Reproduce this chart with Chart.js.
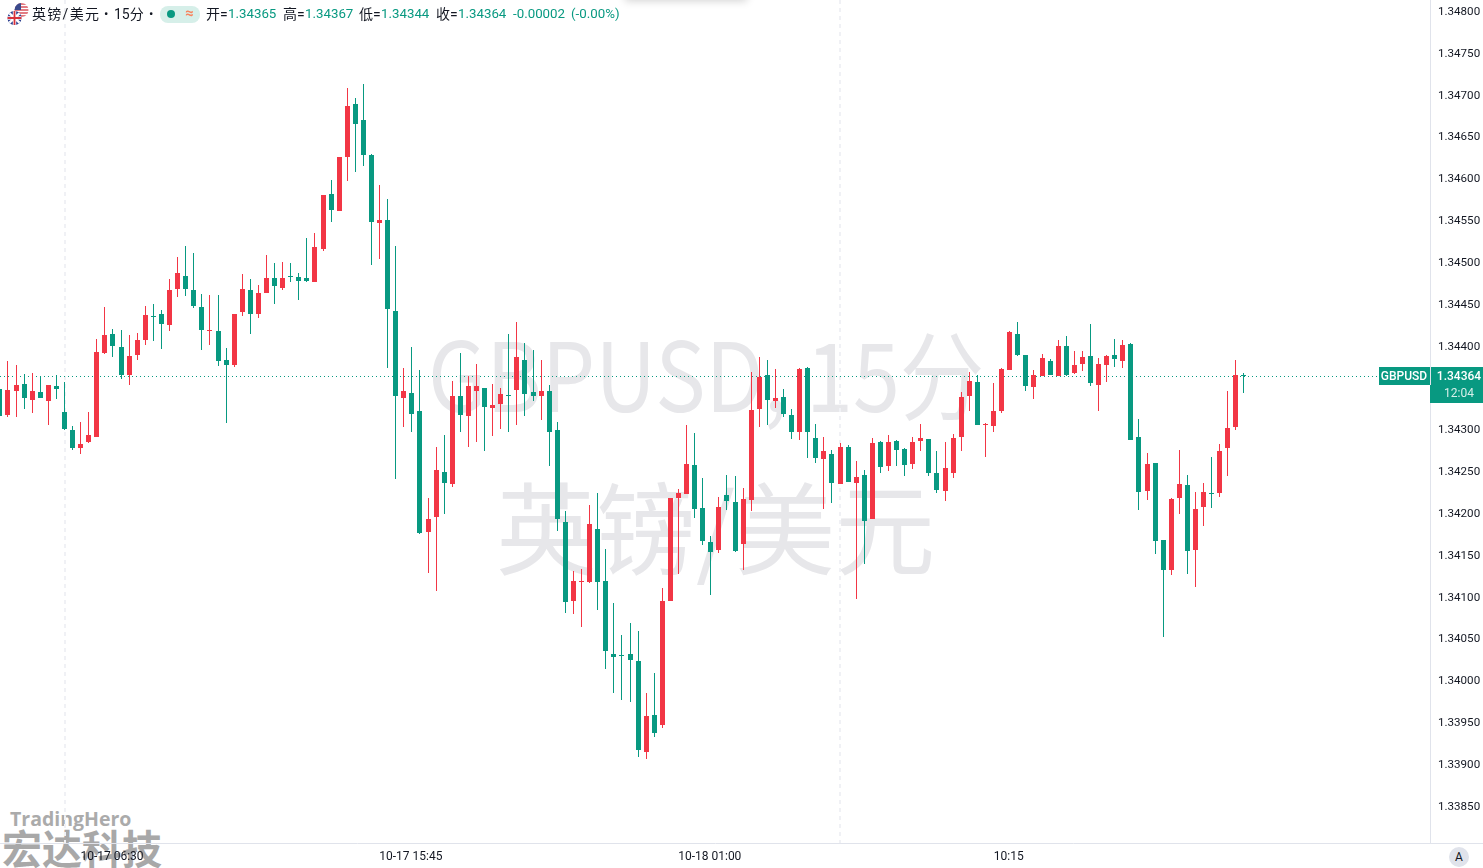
<!DOCTYPE html>
<html>
<head>
<meta charset="utf-8">
<title>GBPUSD</title>
<script src="https://cdn.jsdelivr.net/npm/chart.js@4/dist/chart.umd.min.js"></script>
<style>
html,body{margin:0;padding:0;background:#fff;overflow:hidden;}
#page{position:relative;width:1483px;height:868px;overflow:hidden;font-family:Roboto,"Noto Sans CJK SC",sans-serif;color:#131722;}
#page div,#page span{position:absolute;white-space:nowrap;}
canvas{position:absolute;left:0;top:0;}
.wm{font-family:"Noto Sans CJK SC",sans-serif;color:#e7e7ea;}
.hd{font-size:13px;line-height:16px;top:6px;}
.cn{font-size:14px;}
.up{color:#089981;font-size:13.3px;}
</style>
</head>
<body>
<div id="page">
	<div class="wm" style="left:428px;top:323px;font-size:96px;line-height:96px;transform:scaleX(.88);transform-origin:left;">GBPUSD, 15分</div>
	<div class="wm" style="left:496px;top:474px;font-size:100px;line-height:100px;">英镑/美元</div>
	<div style="left:10px;top:806px;font:bold 19.5px/26px 'Open Sans',sans-serif;color:#ababab;">TradingHero</div>
	<div style="left:2px;top:822px;font:bold 40px/50px 'Noto Sans CJK SC',sans-serif;color:#a8a8a8;">宏达科技</div>
	<canvas id="chart" width="1483" height="868"></canvas>
	<div style="left:625px;top:-20px;width:122px;height:20px;box-shadow:0 1px 8px rgba(0,0,0,.18);"></div>
	<svg style="position:absolute;left:7px;top:3px;" width="22" height="22" viewBox="0 0 22 22">
		<defs><clipPath id="us"><circle cx="14.5" cy="7" r="7"/></clipPath><clipPath id="uk"><circle cx="7.5" cy="15" r="7"/></clipPath></defs>
		<g clip-path="url(#us)"><rect x="7" width="15" height="14" fill="#fff"/><path d="M7 1h15M7 4h15M7 7h15M7 10h15M7 13h15" stroke="#d9505a" stroke-width="1.6"/><rect x="7" width="7" height="7" fill="#3a4a8c"/></g>
		<g clip-path="url(#uk)"><rect y="8" width="15" height="14" fill="#2b3f8f"/><path d="M0 8l15 14M15 8L0 22" stroke="#fff" stroke-width="2.4"/><path d="M7.5 8v14M0 15h15" stroke="#fff" stroke-width="3.4"/><path d="M7.5 8v14M0 15h15" stroke="#d8323c" stroke-width="1.8"/></g>
	</svg>
	<span class="hd cn" style="left:32px;letter-spacing:1.3px;">英镑/美元</span>
	<span class="hd" style="left:104px;">•</span>
	<span class="hd cn" style="left:114px;">15分</span>
	<span class="hd" style="left:149px;">•</span>
	<div style="left:160px;top:6px;width:40px;height:17px;border-radius:8px;background:#d6efe9;"></div>
	<div style="left:167px;top:10px;width:8px;height:8px;border-radius:50%;background:#089981;"></div>
	<span class="hd" style="left:185px;top:5px;font-size:15px;color:#f7845f;font-weight:bold;">≈</span>
	<span class="hd cn" style="left:206px;">开=</span><span class="hd up" style="left:228px;">1.34365</span>
	<span class="hd cn" style="left:283px;">高=</span><span class="hd up" style="left:305px;">1.34367</span>
	<span class="hd cn" style="left:359px;">低=</span><span class="hd up" style="left:381px;">1.34344</span>
	<span class="hd cn" style="left:436px;">收=</span><span class="hd up" style="left:458px;">1.34364</span>
	<span class="hd up" style="left:513px;">-0.00002</span>
	<span class="hd up" style="left:571px;">(-0.00%)</span>
	<div style="left:1449px;top:847px;width:20px;height:20px;border-radius:50%;background:#e0e3eb;font-size:12px;line-height:20px;text-align:center;">A</div>
</div>
<script>
const opens = [
	1.34348,1.34317,1.34346,1.34354,1.34335,1.34345,1.34334,1.34352,1.34321,1.34299,
	1.34278,1.34285,1.34291,1.34391,1.34414,1.34398,1.34365,1.34389,1.34407,1.34435,
	1.34438,1.34425,1.34468,1.34483,1.34466,1.34446,1.34417,1.34417,1.34383,1.34377,
	1.34440,1.34466,1.34438,1.34463,1.34481,1.34469,1.34483,1.34482,1.34481,1.34476,
	1.34515,1.34581,1.34561,1.34625,1.34689,1.34670,1.34628,1.34547,1.34550,1.34441,
	1.34337,1.34343,1.34322,1.34177,1.34195,1.34249,1.34235,1.34340,1.34316,1.34346,
	1.34349,1.34325,1.34330,1.34341,1.34347,1.34383,1.34345,1.34340,1.34346,1.34299,
	1.34189,1.34095,1.34117,1.34117,1.34181,1.34119,1.34031,1.34030,1.34031,1.34023,
	1.33914,1.33959,1.33947,1.34095,1.34218,1.34223,1.34257,1.34206,1.34165,1.34156,
	1.34221,1.34213,1.34163,1.34215,1.34324,1.34365,1.34334,1.34339,1.34317,1.34297,
	1.34373,1.34290,1.34264,1.34270,1.34235,1.34279,1.34236,1.34245,1.34193,1.34285,
	1.34256,1.34286,1.34276,1.34258,1.34286,1.34288,1.34248,1.34226,1.34248,1.34291,
	1.34340,1.34357,1.34305,1.34304,1.34322,1.34371,1.34414,1.34389,1.34350,1.34364,
	1.34382,1.34364,1.34400,1.34367,1.34378,1.34388,1.34353,1.34377,1.34389,1.34382,
	1.34402,1.34291,1.34226,1.34260,1.34168,1.34132,1.34218,1.34233,1.34156,1.34207,
	1.34224,1.34224,1.34278,1.34303,1.34365
];
const highs = [
	1.34368,1.34382,1.34377,1.34366,1.34367,1.34364,1.34353,1.34365,1.34357,1.34304,
	1.34309,1.34321,1.34408,1.34446,1.34420,1.34419,1.34413,1.34415,1.34447,1.34450,
	1.34443,1.34480,1.34506,1.34519,1.34511,1.34462,1.34460,1.34460,1.34397,1.34438,
	1.34486,1.34480,1.34472,1.34508,1.34499,1.34500,1.34499,1.34487,1.34529,1.34535,
	1.34580,1.34598,1.34625,1.34708,1.34696,1.34713,1.34629,1.34592,1.34575,1.34519,
	1.34373,1.34398,1.34371,1.34218,1.34279,1.34293,1.34358,1.34391,1.34364,1.34378,
	1.34349,1.34354,1.34349,1.34414,1.34428,1.34403,1.34395,1.34383,1.34353,1.34309,
	1.34202,1.34131,1.34133,1.34209,1.34224,1.34157,1.34092,1.34054,1.34068,1.34059,
	1.33985,1.34009,1.34110,1.34218,1.34229,1.34305,1.34296,1.34242,1.34172,1.34219,
	1.34245,1.34244,1.34230,1.34368,1.34386,1.34383,1.34372,1.34348,1.34324,1.34373,
	1.34374,1.34306,1.34291,1.34275,1.34284,1.34281,1.34262,1.34251,1.34290,1.34286,
	1.34293,1.34287,1.34278,1.34291,1.34306,1.34288,1.34274,1.34285,1.34294,1.34345,
	1.34368,1.34365,1.34307,1.34355,1.34373,1.34417,1.34428,1.34389,1.34371,1.34390,
	1.34384,1.34407,1.34411,1.34394,1.34394,1.34426,1.34385,1.34389,1.34408,1.34407,
	1.34403,1.34312,1.34272,1.34260,1.34168,1.34218,1.34275,1.34245,1.34225,1.34236,
	1.34267,1.34282,1.34346,1.34383,1.34367
];
const lows = [
	1.34315,1.34315,1.34315,1.34324,1.34320,1.34337,1.34305,1.34336,1.34299,1.34275,
	1.34270,1.34284,1.34291,1.34390,1.34386,1.34360,1.34353,1.34383,1.34401,1.34405,
	1.34396,1.34417,1.34458,1.34459,1.34445,1.34395,1.34401,1.34376,1.34307,1.34374,
	1.34435,1.34414,1.34433,1.34463,1.34450,1.34466,1.34476,1.34454,1.34476,1.34476,
	1.34513,1.34548,1.34561,1.34597,1.34607,1.34615,1.34496,1.34503,1.34373,1.34241,
	1.34303,1.34297,1.34175,1.34128,1.34107,1.34199,1.34231,1.34297,1.34279,1.34285,
	1.34274,1.34292,1.34300,1.34297,1.34305,1.34316,1.34334,1.34311,1.34256,1.34178,
	1.34080,1.34079,1.34064,1.34116,1.34084,1.34013,1.33985,1.33976,1.33974,1.33908,
	1.33906,1.33932,1.33943,1.34095,1.34127,1.34223,1.34194,1.34162,1.34102,1.34152,
	1.34203,1.34153,1.34132,1.34202,1.34303,1.34305,1.34325,1.34315,1.34288,1.34287,
	1.34266,1.34260,1.34205,1.34212,1.34235,1.34237,1.34097,1.34139,1.34193,1.34248,
	1.34250,1.34256,1.34244,1.34252,1.34274,1.34244,1.34224,1.34214,1.34242,1.34274,
	1.34322,1.34305,1.34267,1.34297,1.34320,1.34371,1.34388,1.34346,1.34336,1.34364,
	1.34365,1.34364,1.34364,1.34366,1.34370,1.34352,1.34322,1.34357,1.34374,1.34373,
	1.34287,1.34204,1.34215,1.34151,1.34052,1.34126,1.34199,1.34127,1.34111,1.34184,
	1.34206,1.34219,1.34244,1.34299,1.34344
];
const closes = [
	1.34316,1.34347,1.34353,1.34337,1.34346,1.34337,1.34353,1.34348,1.34300,1.34278,
	1.34282,1.34293,1.34392,1.34413,1.34400,1.34365,1.34388,1.34407,1.34437,1.34434,
	1.34426,1.34466,1.34487,1.34468,1.34447,1.34419,1.34419,1.34382,1.34377,1.34438,
	1.34468,1.34438,1.34463,1.34481,1.34471,1.34481,1.34482,1.34477,1.34477,1.34518,
	1.34580,1.34562,1.34625,1.34686,1.34665,1.34628,1.34548,1.34550,1.34444,1.34340,
	1.34346,1.34318,1.34176,1.34193,1.34251,1.34236,1.34340,1.34317,1.34352,1.34352,
	1.34327,1.34329,1.34342,1.34340,1.34386,1.34342,1.34340,1.34346,1.34297,1.34193,
	1.34094,1.34119,1.34119,1.34187,1.34117,1.34035,1.34028,1.34029,1.34024,1.33917,
	1.33957,1.33937,1.34095,1.34218,1.34224,1.34258,1.34205,1.34166,1.34153,1.34207,
	1.34214,1.34155,1.34217,1.34323,1.34362,1.34335,1.34337,1.34318,1.34297,1.34372,
	1.34297,1.34266,1.34274,1.34236,1.34279,1.34237,1.34243,1.34190,1.34284,1.34255,
	1.34285,1.34275,1.34257,1.34285,1.34290,1.34248,1.34227,1.34254,1.34290,1.34339,
	1.34358,1.34305,1.34306,1.34322,1.34372,1.34416,1.34389,1.34352,1.34365,1.34385,
	1.34365,1.34400,1.34365,1.34377,1.34386,1.34355,1.34378,1.34388,1.34384,1.34401,
	1.34287,1.34225,1.34258,1.34166,1.34132,1.34217,1.34235,1.34155,1.34205,1.34225,
	1.34223,1.34274,1.34301,1.34365,1.34364
];
const priceTicks = [1.348,1.3475,1.347,1.3465,1.346,1.3455,1.345,1.3445,1.344,1.3435,1.343,1.3425,1.342,1.3415,1.341,1.3405,1.34,1.3395,1.339,1.3385];
const timeTickBars = [14,51,88,125];
const timeTickLabels = ['10-17 06:30','10-17 15:45','10-18 01:00','10:15'];
const dayLineBars = [8,104];
const lastPrice = 1.34364;
const symbolTag = 'GBPUSD';
const countdown = '12:04';

const GREEN = '#089981';
const RED = '#F23645';
const candleColors = closes.map((c,i)=> c<opens[i] ? GREEN : RED);

// visible window of the pane, in bar numbers and prices
const xMin = 0.012, xMax = 177.03;
const yMin = 1.338056, yMax = 1.348131;

// keep the marks on whole pixels like the original
const snapPlugin = {
	id:'snap',
	afterDatasetsUpdate(chart){
		chart.data.datasets.forEach((ds,n)=>{
			chart.getDatasetMeta(n).data.forEach(el=>{
				if(ds.type==='line'){
					el.y = Math.round(el.y)+0.5;
					return;
				}
				el.x = Math.floor(el.x)+0.5;
				el.y = Math.round(el.y);
				el.base = Math.round(el.base);
				if(el.y===el.base) el.base = el.y+1;
			});
		});
	}
};

const tagsPlugin = {
	id:'tags',
	afterDraw(chart){
		const ctx = chart.ctx;
		const py = Math.round(chart.scales.y.getPixelForValue(lastPrice));
		const right = chart.chartArea.right;
		ctx.save();
		// bottom axis line runs on under the price scale
		ctx.fillStyle = '#e0e3eb';
		ctx.fillRect(right,chart.chartArea.bottom,chart.width-right,1);
		ctx.fillStyle = GREEN;
		ctx.fillRect(right-51,py-9,51,18);
		ctx.fillRect(right+1,py-9,53,18);
		ctx.fillRect(right,py+9,53,18);
		ctx.fillStyle = '#fff';
		ctx.textAlign = 'center';
		ctx.textBaseline = 'middle';
		ctx.font = '500 12px Roboto';
		ctx.fillText(symbolTag,right-26,py+0.5);
		ctx.fillText(lastPrice.toFixed(5),right+29,py+0.5);
		ctx.fillStyle = '#d6efe9';
		ctx.font = '12px Roboto';
		ctx.fillText(countdown,right+29,py+18);
		ctx.restore();
	}
};

new Chart(document.querySelector('#chart').getContext('2d'),{
	data:{
		datasets:[
			{
				type:'line',
				order:3,
				data:[{x:xMin,y:lastPrice},{x:xMax,y:lastPrice}],
				borderColor:GREEN,
				borderWidth:1,
				borderDash:[1,3],
				pointRadius:0
			},
			{
				type:'bar',
				order:2,
				grouped:false,
				data:highs.map((h,i)=>({x:i,y:[lows[i],h]})),
				backgroundColor:candleColors,
				barThickness:1,
				inflateAmount:0,
				borderWidth:0
			},
			{
				type:'bar',
				order:1,
				grouped:false,
				data:opens.map((o,i)=>({x:i,y:[o,closes[i]]})),
				backgroundColor:candleColors,
				barThickness:5,
				inflateAmount:0,
				minBarLength:1,
				borderWidth:0
			}
		]
	},
	options:{
		responsive:false,
		animation:false,
		layout:{padding:0},
		plugins:{legend:{display:false},tooltip:{enabled:false}},
		scales:{
			x:{
				type:'linear',
				offset:false,
				min:xMin,
				max:xMax,
				afterFit(axis){
					axis.height = 25;
					axis.paddingLeft = 0;
					axis.paddingRight = 0;
				},
				afterBuildTicks(axis){
					axis.ticks = timeTickBars.concat(dayLineBars).sort((a,b)=>a-b).map(v=>({value:v}));
				},
				ticks:{
					autoSkip:false,
					maxRotation:0,
					padding:7,
					labelOffset:-1,
					color:'#131722',
					font:{family:'Roboto',size:12},
					callback(v){
						const k = timeTickBars.indexOf(v);
						return k<0 ? '' : timeTickLabels[k];
					}
				},
				grid:{
					offset:false,
					drawTicks:false,
					lineWidth:2,
					color(c){ return dayLineBars.includes(c.tick && c.tick.value) ? '#f0f1f5' : 'transparent'; }
				},
				border:{color:'#e0e3eb',width:1,dash:[4,4]}
			},
			y:{
				position:'right',
				min:yMin,
				max:yMax,
				afterFit(axis){
					axis.width = 53;
					axis.paddingTop = 0;
					axis.paddingBottom = 0;
				},
				afterBuildTicks(axis){
					axis.ticks = priceTicks.map(v=>({value:v}));
				},
				ticks:{
					autoSkip:false,
					padding:8,
					labelOffset:1,
					color:'#131722',
					font:{family:'Roboto',size:11.6},
					callback(v){ return v.toFixed(5); }
				},
				grid:{display:false,drawTicks:false},
				border:{color:'#e0e3eb',width:1}
			}
		}
	},
	plugins:[snapPlugin,tagsPlugin]
});
</script>
</body>
</html>
